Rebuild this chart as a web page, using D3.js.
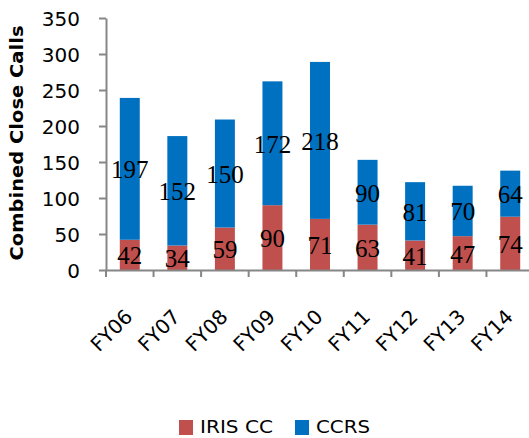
<!DOCTYPE html>
<html><head><meta charset="utf-8">
<script src="https://cdn.jsdelivr.net/npm/d3@7"></script>
<style>body{margin:0;background:#fff}svg{display:block}</style>
</head><body>
<svg id="c" width="529" height="438"></svg>
<script>
const categories = ["FY06","FY07","FY08","FY09","FY10","FY11","FY12","FY13","FY14"];
const irisCC = [42,34,59,90,71,63,41,47,74];
const ccrs = [197,152,150,172,218,90,81,70,64];
const yTicks = [0,50,100,150,200,250,300,350];
const seriesNames = ["IRIS CC","CCRS"];
const seriesColors = ["#C0504D","#0070C0"];

const svg = d3.select("#c");
const font = "DejaVu Sans, sans-serif";
const serif = "Liberation Serif, serif";
const x = d3.scaleBand().domain(categories).range([106,534]).paddingInner(0.58).paddingOuter(0.29);
const xb = d3.scaleBand().domain(categories).range([106,534]);
const y = d3.scaleLinear().domain([0,350]).range([270,18]);

const rows = categories.map((c,i)=>({cat:c, "IRIS CC":irisCC[i], "CCRS":ccrs[i]}));
const stack = d3.stack().keys(seriesNames)(rows);

// y axis
const ya = svg.append("g").attr("transform","translate(106,0)")
  .call(d3.axisLeft(y).tickValues(yTicks).tickSize(7).tickPadding(19).tickSizeOuter(0));
ya.select(".domain").attr("stroke","#868686").attr("stroke-width",2);
ya.selectAll(".tick line").attr("stroke","#868686").attr("stroke-width",2);
ya.selectAll(".tick text").attr("font-family",font).attr("font-size",20).attr("fill","#000")
  .attr("dy","0.36em");

// bars
stack.forEach((s,si)=>{
  svg.append("g").selectAll("rect").data(s).join("rect")
    .attr("x",d=>x(d.data.cat)).attr("width",x.bandwidth())
    .attr("y",d=>y(d[1])).attr("height",d=>y(d[0])-y(d[1]))
    .attr("fill",seriesColors[si]);
  svg.append("g").selectAll("text").data(s).join("text")
    .attr("x",d=>x(d.data.cat)+x.bandwidth()/2)
    .attr("y",d=>y((d[0]+d[1])/2))
    .attr("dy","0.38em").attr("text-anchor","middle")
    .attr("font-family",serif).attr("font-size",25).attr("fill","#000")
    .text(d=>d[1]-d[0]);
});

// x axis
const xa = svg.append("g").attr("transform","translate(0,270)")
  .call(d3.axisBottom(xb).tickSize(0).tickSizeOuter(0).tickFormat(""));
xa.select(".domain").attr("stroke","#868686").attr("stroke-width",2);
categories.forEach(c=>{
  svg.append("line").attr("x1",xb(c)).attr("x2",xb(c)).attr("y1",270).attr("y2",277)
    .attr("stroke","#868686").attr("stroke-width",2);
});
svg.append("g").selectAll("text").data(categories).join("text")
  .attr("transform",d=>`translate(${xb(d)+xb.bandwidth()/2+4},318) rotate(-45)`)
  .attr("text-anchor","end").attr("font-family",font).attr("font-size",20).attr("fill","#000")
  .text(d=>d);

// y label
svg.append("text").attr("transform","translate(23,143) rotate(-90)")
  .attr("text-anchor","middle").attr("font-family",font).attr("font-weight","bold")
  .attr("font-size",17).attr("fill","#000").attr("textLength",235).attr("lengthAdjust","spacingAndGlyphs")
  .text("Combined Close Calls");

// legend
const leg = [{n:seriesNames[0],c:seriesColors[0],x:179,tx:200,w:73},{n:seriesNames[1],c:seriesColors[1],x:295,tx:316,w:54}];
leg.forEach(l=>{
  svg.append("rect").attr("x",l.x).attr("y",420).attr("width",14).attr("height",15).attr("fill",l.c);
  svg.append("text").attr("x",l.tx).attr("y",433).attr("font-family",font).attr("font-size",18)
    .attr("fill","#000").attr("textLength",l.w).attr("lengthAdjust","spacingAndGlyphs").text(l.n);
});
</script>
</body></html>
